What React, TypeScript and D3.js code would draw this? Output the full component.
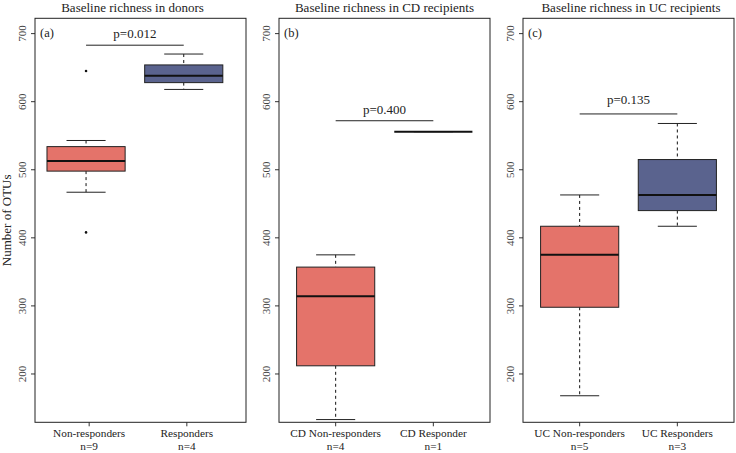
import React from "react";
import * as d3 from "d3";

// ---------- data ----------
const titles = [
  "Baseline richness in donors",
  "Baseline richness in CD recipients",
  "Baseline richness in UC recipients",
];
const panelTags = ["(a)", "(b)", "(c)"];
const categories = [
  ["Non-responders", "Responders"],
  ["CD Non-responders", "CD Responder"],
  ["UC Non-responders", "UC Responders"],
];
const groupSizes = [
  [9, 4],
  [4, 1],
  [5, 3],
];
const lowerWhisker = [
  [467, 618],
  [133, 556],
  [168, 417],
];
const q1 = [
  [498, 628],
  [212, 556],
  [298, 440],
];
const median = [
  [513, 638],
  [314, 556],
  [375, 463],
];
const q3 = [
  [534, 654],
  [357, 556],
  [417, 515],
];
const upperWhisker = [
  [543, 670],
  [375, 556],
  [463, 568],
];
const outliers = [
  [[645, 408], []],
  [[], []],
  [[], []],
];
const pValues = ["p=0.012", "p=0.400", "p=0.135"];
const pLineLevels = [683, 572, 582];
const yTicks = [200, 300, 400, 500, 600, 700];
const fillColors = ["#e4736a", "#5a638e"];

// ---------- layout ----------
const W = 736;
const H = 453;
const panelLeft = [35, 279, 523];
const panelW = 211;
const plotTop = 18.3;
const plotBottom = 422.3;
const boxShift = [-5.6, 0, 0];
const tickShift = [-2.5, 0, 0];
const fontStyle = { fontFamily: "Liberation Serif, Times New Roman, serif" };

const y = d3.scaleLinear().domain([129, 722.5]).range([plotBottom, plotTop]);

function Panel({ i }: { i: number }) {
  const left = panelLeft[i];
  const x = d3.scaleLinear().domain([0.42, 2.58]).range([left, left + panelW]);
  const unit = x(1) - x(0);
  const bw = 0.8 * unit;
  const bx = (k: number) => x(k + 1) + boxShift[i];
  const tx = (k: number) => x(k + 1) + tickShift[i];
  const titleShift = i === 0 ? -8 : i === 2 ? 2.5 : 0;
  const pTextGap = [7, 7, 10][i];
  return (
    <g>
      <text
        x={left + panelW / 2 + titleShift}
        y={12}
        textAnchor="middle"
        fontSize={13}
        fill="#222"
        style={fontStyle}
      >
        {titles[i]}
      </text>
      {/* y axis */}
      {yTicks.map((t) => (
        <g key={t}>
          <line x1={left - 4} x2={left} y1={y(t)} y2={y(t)} stroke="#333" />
          <text
            transform={`translate(${left - 9},${y(t)}) rotate(-90)`}
            textAnchor="middle"
            fontSize={11}
            fill="#444"
            style={fontStyle}
          >
            {t}
          </text>
        </g>
      ))}
      {/* x axis */}
      {categories[i].map((c, k) => (
        <g key={c}>
          <line x1={tx(k)} x2={tx(k)} y1={plotBottom} y2={plotBottom + 4} stroke="#333" />
          <text x={tx(k)} y={437} textAnchor="middle" fontSize={11.3} fill="#222" style={fontStyle}>
            {c}
          </text>
          <text x={tx(k)} y={449.5} textAnchor="middle" fontSize={11.3} fill="#222" style={fontStyle}>
            n={groupSizes[i][k]}
          </text>
        </g>
      ))}
      {/* boxes */}
      {categories[i].map((c, k) => {
        const cx = bx(k);
        return (
          <g key={"b" + c}>
            <line
              x1={cx}
              x2={cx}
              y1={y(upperWhisker[i][k])}
              y2={y(q3[i][k])}
              stroke="#111"
              strokeDasharray="3,3"
            />
            <line
              x1={cx}
              x2={cx}
              y1={y(q1[i][k])}
              y2={y(lowerWhisker[i][k])}
              stroke="#111"
              strokeDasharray="3,3"
            />
            <line
              x1={cx - bw / 4}
              x2={cx + bw / 4}
              y1={y(upperWhisker[i][k])}
              y2={y(upperWhisker[i][k])}
              stroke="#222"
            />
            <line
              x1={cx - bw / 4}
              x2={cx + bw / 4}
              y1={y(lowerWhisker[i][k])}
              y2={y(lowerWhisker[i][k])}
              stroke="#222"
            />
            <rect
              x={cx - bw / 2}
              y={y(q3[i][k])}
              width={bw}
              height={y(q1[i][k]) - y(q3[i][k])}
              fill={fillColors[k]}
              stroke="#222"
            />
            <line
              x1={cx - bw / 2}
              x2={cx + bw / 2}
              y1={y(median[i][k])}
              y2={y(median[i][k])}
              stroke="#111"
              strokeWidth={2}
            />
            {outliers[i][k].map((o, j) => (
              <circle key={j} cx={cx} cy={y(o)} r={1.3} fill="#111" />
            ))}
          </g>
        );
      })}
      {/* p-value */}
      <line
        x1={bx(0)}
        x2={bx(1)}
        y1={y(pLineLevels[i])}
        y2={y(pLineLevels[i])}
        stroke="#222"
      />
      <text
        x={(bx(0) + bx(1)) / 2}
        y={y(pLineLevels[i]) - pTextGap}
        textAnchor="middle"
        fontSize={13}
        fill="#222"
        style={fontStyle}
      >
        {pValues[i]}
      </text>
      <text x={left + 5} y={37} fontSize={12.5} fill="#222" style={fontStyle}>
        {panelTags[i]}
      </text>
      {/* frame */}
      <rect
        x={left}
        y={plotTop}
        width={panelW}
        height={plotBottom - plotTop}
        fill="none"
        stroke="#222"
      />
    </g>
  );
}

export default function App() {
  return (
    <svg
      width={W}
      height={H}
      style={{ position: "absolute", left: 0, top: 0, background: "#fff" }}
    >
      <rect width={W} height={H} fill="#fff" />
      <text
        transform={`translate(11,${(plotTop + plotBottom) / 2}) rotate(-90)`}
        textAnchor="middle"
        fontSize={13}
        fill="#222"
        style={fontStyle}
      >
        Number of OTUs
      </text>
      {[0, 1, 2].map((i) => (
        <Panel key={i} i={i} />
      ))}
    </svg>
  );
}
